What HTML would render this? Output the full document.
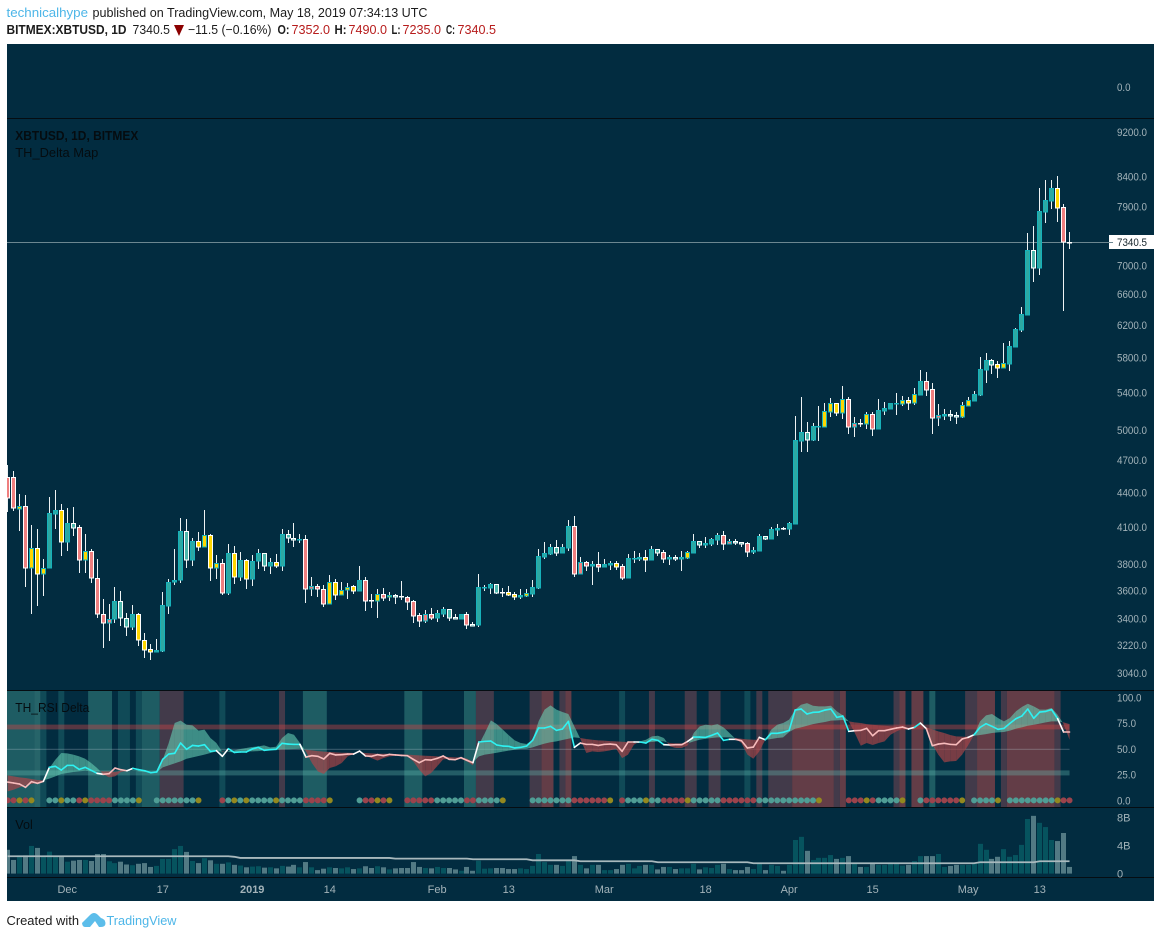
<!DOCTYPE html>
<html lang="en">
<head>
<meta charset="utf-8">
<title>XBTUSD 1D chart</title>
<style>
html,body{margin:0;padding:0;background:#fff;width:1161px;height:938px;overflow:hidden}
svg{display:block}
text{font-family:"Liberation Sans",sans-serif}
.ax{font-size:11px;fill:#a3b3b9}
.hd{font-size:13px;fill:#1c1c1c}
.ttl{font-size:13px;fill:#050c10}
</style>
</head>
<body>
<svg id="chart" xmlns="http://www.w3.org/2000/svg" width="1161" height="938" viewBox="0 0 1161 938">
  <defs>
    <clipPath id="main-clip"><rect x="7" y="119" width="1102" height="571"/></clipPath>
    <clipPath id="rsi-clip"><rect x="7" y="691" width="1102" height="116"/></clipPath>
    <clipPath id="vol-clip"><rect x="7" y="808" width="1102" height="69"/></clipPath>
  </defs>

  <text class="hd" x="6.5" y="17" textLength="81.5" lengthAdjust="spacingAndGlyphs" style="fill:#4db6e8">technicalhype</text>
  <text class="hd" x="92.5" y="17" textLength="335" lengthAdjust="spacingAndGlyphs">published on TradingView.com, May 18, 2019 07:34:13 UTC</text>
  <text class="hd" x="6.5" y="34" textLength="120" lengthAdjust="spacingAndGlyphs" font-weight="bold">BITMEX:XBTUSD, 1D</text>
  <text class="hd" x="132.5" y="34" textLength="37.5" lengthAdjust="spacingAndGlyphs">7340.5</text>
  <polygon points="174,25 184,25 179,36" fill="#8b0000"/>
  <text class="hd" x="188" y="34" textLength="83.5" lengthAdjust="spacingAndGlyphs">−11.5 (−0.16%)</text>
  <text class="hd" x="277.5" y="34" textLength="12" lengthAdjust="spacingAndGlyphs" font-weight="bold">O:</text>
  <text class="hd" x="291.5" y="34" textLength="38.5" lengthAdjust="spacingAndGlyphs" style="fill:#b71c1c">7352.0</text>
  <text class="hd" x="334.5" y="34" textLength="12" lengthAdjust="spacingAndGlyphs" font-weight="bold">H:</text>
  <text class="hd" x="348.5" y="34" textLength="38.5" lengthAdjust="spacingAndGlyphs" style="fill:#b71c1c">7490.0</text>
  <text class="hd" x="391.5" y="34" textLength="9" lengthAdjust="spacingAndGlyphs" font-weight="bold">L:</text>
  <text class="hd" x="402.5" y="34" textLength="38.5" lengthAdjust="spacingAndGlyphs" style="fill:#b71c1c">7235.0</text>
  <text class="hd" x="446" y="34" textLength="9" lengthAdjust="spacingAndGlyphs" font-weight="bold">C:</text>
  <text class="hd" x="457.5" y="34" textLength="38.5" lengthAdjust="spacingAndGlyphs" style="fill:#b71c1c">7340.5</text>

  <rect x="7" y="44" width="1147" height="857" fill="#022c40"/>

  <g id="rsi-bg" clip-path="url(#rsi-clip)"></g>
  <g id="rsi-guides" clip-path="url(#rsi-clip)"></g>
  <g id="rsi-cloud" clip-path="url(#rsi-clip)"></g>
  <g id="rsi-line" clip-path="url(#rsi-clip)"></g>
  <g id="rsi-dots" clip-path="url(#rsi-clip)"></g>
  <g id="vol-bars" clip-path="url(#vol-clip)"></g>
  <path id="vol-ma" clip-path="url(#vol-clip)" fill="none" stroke="#a9b9bd" stroke-width="1.8"/>

  <rect id="price-line" x="7" y="242" width="1102" height="1" fill="#6c8791"/>
  <g id="candles" clip-path="url(#main-clip)"></g>

  <rect x="7" y="118" width="1147" height="1" fill="#050d12"/>
  <rect x="7" y="690" width="1147" height="1" fill="#050d12"/>
  <rect x="7" y="807" width="1147" height="1" fill="#050d12"/>
  <rect x="7" y="877" width="1147" height="1" fill="#050d12"/>

  <text class="ax" x="1117" y="91" textLength="13.5" lengthAdjust="spacingAndGlyphs">0.0</text>
  <g id="price-axis"></g>
  <g id="rsi-axis"></g>
  <g id="vol-axis"></g>
  <g id="time-axis"></g>

  <rect id="price-tag" x="1109" y="235" width="45" height="14" fill="#ffffff"/>
  <rect x="1109" y="242" width="4" height="1" fill="#6c8791"/>
  <text id="price-tag-text" x="1117" y="246" textLength="30" lengthAdjust="spacingAndGlyphs" style="font-size:11px;fill:#15242b">7340.5</text>

  <text class="ttl" x="15.3" y="140" textLength="123" lengthAdjust="spacingAndGlyphs" font-weight="bold">XBTUSD, 1D, BITMEX</text>
  <text class="ttl" x="15.3" y="157" textLength="83" lengthAdjust="spacingAndGlyphs">TH_Delta Map</text>
  <text class="ttl" x="15.3" y="712" textLength="74" lengthAdjust="spacingAndGlyphs">TH_RSI Delta</text>
  <text class="ttl" x="15.3" y="829" textLength="17.5" lengthAdjust="spacingAndGlyphs">Vol</text>

  <text class="hd" x="6.5" y="925" textLength="72.5" lengthAdjust="spacingAndGlyphs">Created with</text>
  <path d="M82 923 L90 915 Q94 911 98 915 L101 918 Q105 919 105.5 923 Q105.5 927 101 927 L99 927 L95 921 L90 927 L85 927 Q82.5 927 82 923 Z" fill="#5cbdea"/>
  <text class="hd" x="106.5" y="925" textLength="70" lengthAdjust="spacingAndGlyphs" style="fill:#4db6e8">TradingView</text>
</svg>

<script>
const opens = [
4540,4540,4252,4280,3769,3926,3722,3769,4209,4243,
3975,4132,4098,3830,3902,3692,3430,3367,3395,3522,
3402,3339,3430,3252,3193,3173,3180,3486,3662,3677,
4065,3830,3983,3934,4032,3769,3807,3580,3887,3699,
3830,3684,3823,3887,3784,3815,3784,4040,4007,3991,
3999,3610,3632,3610,3500,3662,3566,3602,3632,3595,
3677,3529,3522,3573,3551,3566,3558,3551,3522,3423,
3381,3430,3402,3430,3465,3409,3395,3430,3360,3353,
3617,3617,3647,3588,3588,3573,3551,3558,3573,3617,
3855,3879,3934,3887,3926,4106,3722,3815,3784,3800,
3776,3792,3807,3784,3692,3839,3839,3855,3830,3918,
3895,3839,3855,3839,3847,3887,3983,3950,3959,3991,
4032,3959,3983,3975,3967,3895,3902,4024,3999,4073,
4090,4081,4123,4888,4980,4898,5031,5031,5188,5284,
5177,5328,5031,5072,5062,5167,5010,5198,5220,5273,
5273,5317,5284,5372,5528,5438,5125,5146,5167,5156,
5135,5252,5306,5372,5654,5771,5724,5677,5724,5926,
6137,6328,7230,6968,7815,7993,8209,7896,7352];
const highs = [
4653,4597,4385,4376,4115,4081,3839,4358,4421,4297,
4263,4271,4115,4040,3918,3839,3536,3500,3625,3595,
3437,3493,3437,3299,3226,3259,3588,3684,3918,4174,
4166,4007,4056,4243,4040,3871,3839,3959,3942,3895,
3839,3871,3918,3887,3847,3879,4081,4073,4132,4040,
4032,3699,3647,3639,3715,3684,3662,3654,3639,3784,
3699,3573,3610,3617,3588,3573,3669,3558,3529,3437,
3458,3472,3458,3479,3465,3430,3430,3444,3374,3722,
3639,3654,3647,3617,3632,3588,3610,3610,3677,3918,
3975,3959,3991,3959,4157,4192,3855,3823,3823,3895,
3839,3823,3823,3800,3879,3902,3887,3910,3942,3918,
3910,3871,3871,3902,3902,4040,3983,4015,4007,4048,
4065,3999,3999,3975,3975,3934,4040,4024,4098,4123,
4098,4140,5146,5350,5083,5072,5252,5284,5339,5284,
5471,5350,5135,5114,5188,5188,5328,5295,5284,5394,
5361,5350,5449,5654,5631,5505,5273,5220,5209,5188,
5295,5350,5416,5807,5854,5783,5759,5975,6000,6162,
6434,7480,7585,8209,8344,8344,8413,7945,7490];
const lows = [
4226,4235,4065,3625,3430,3486,3558,3769,4081,3863,
3902,4024,3730,3730,3654,3402,3199,3246,3367,3346,
3279,3319,3213,3134,3121,3173,3173,3430,3639,3654,
3769,3784,3902,3934,3669,3684,3566,3566,3647,3669,
3610,3632,3761,3745,3722,3769,3745,3967,3934,3967,
3508,3558,3551,3479,3500,3529,3566,3536,3573,3595,
3451,3472,3402,3522,3522,3500,3529,3458,3367,3339,
3367,3388,3374,3409,3381,3395,3395,3326,3346,3339,
3595,3573,3573,3551,3558,3529,3536,3551,3551,3610,
3839,3871,3863,3887,3902,3699,3722,3745,3639,3738,
3776,3753,3753,3677,3692,3807,3823,3738,3830,3863,
3807,3792,3823,3745,3839,3887,3926,3926,3942,3950,
3910,3959,3950,3934,3855,3879,3902,3991,3999,4024,
4073,4032,4123,4780,4780,4888,4888,5031,5135,5146,
5114,4959,4929,5031,5010,4939,5010,5156,5220,5156,
5252,5209,5263,5372,5361,4959,5041,5103,5093,5062,
5125,5252,5306,5361,5505,5608,5562,5677,5642,5926,
6112,6328,6771,6870,7632,7864,7648,6381,7235];
const closes = [
4349,4263,4280,3769,3926,3722,3769,4217,4243,3975,
4132,4090,3830,3902,3692,3430,3367,3395,3522,3402,
3339,3430,3252,3186,3173,3186,3493,3662,3677,4065,
3830,3983,3934,4032,3769,3807,3580,3887,3699,3830,
3684,3823,3887,3784,3815,3784,4040,4007,3991,3999,
3610,3632,3610,3500,3662,3566,3602,3625,3595,3677,
3522,3522,3573,3544,3566,3551,3551,3515,3416,3381,
3430,3402,3437,3465,3402,3395,3430,3353,3346,3625,
3625,3647,3580,3580,3566,3551,3566,3580,3625,3863,
3887,3934,3887,3934,4106,3722,3815,3784,3800,3776,
3800,3807,3776,3692,3847,3847,3855,3830,3918,3887,
3839,3855,3839,3855,3895,3983,3950,3967,3999,4032,
3959,3983,3967,3959,3895,3910,4024,3999,4081,4090,
4081,4132,4898,4980,4898,5041,5041,5198,5284,5177,
5328,5031,5072,5062,5167,5010,5209,5230,5284,5284,
5317,5284,5383,5528,5427,5125,5156,5167,5146,5135,
5263,5317,5383,5665,5771,5712,5677,5736,5938,6149,
6341,7230,6968,7831,8010,8209,7880,7352,7340.5];
const candleFills = ("rryryyytty"+"tmryrrrrtm"+"mtyyyttttt"+"mtyyyyrtyt"+"yttmtytmmt"+"rrrryyyyyt"+"rmyrymmrrr"+"rrttmmtrmt"+"ttmmyytytt"+"ttmttrrrtr"+"ttyrtttytm"+"rtmtytmttt"+"rrmmrttmtt"+"mtttmttyyy"+"yrrmyrtttt"+"yyytrrrtmm"+"yytttmyytt"+"ttmtttyrm").split("");
const lastPrice = 7340.5;
const priceTicks = [9200,8400,7900,7000,6600,6200,5800,5400,5000,4700,4400,4100,3800,3600,3400,3220,3040];

const rsi = [
17.7,16.8,15.8,12.6,18.1,16.5,18.4,32,33,29.4,
33.9,33.9,30,32,29.1,26.2,25.2,25.8,31.3,29.7,
28.7,31,29.7,28.7,26.8,27.5,39.8,44.9,45.6,55.6,
49.5,53.3,52.7,54,47.5,48.2,42.7,50.1,46.5,46.9,
46.9,49.8,51.4,48.5,49.1,49.5,55.3,54.6,54.3,54.3,
42,43.3,42.7,40.1,45.6,44,44.3,44.9,44.9,47.8,
43,42.7,44.3,43.3,44.6,44,43.6,43.3,39.8,36.5,
39.4,39.1,40.7,43,39.8,39.4,41.4,38.8,36.5,56.6,
57.2,57.5,53.7,52.7,52.4,50.8,51.4,52.7,58.2,70.2,
70.2,71.8,67.9,69.2,76.6,51.4,55.6,54.3,54.3,53.3,
54.3,54.6,54,47.5,56.6,56.6,56.6,55.6,59.2,58.2,
54,53.7,54,54,57.2,61.4,61.4,61.1,63,65.3,
58.2,59.2,59.2,57.9,50.8,51.7,61.1,58.8,65,65,
66,67.9,87.6,88.6,83.8,85.4,85.7,87.6,88.6,80.5,
81.8,66.9,67.6,67.9,69.8,62.7,67.6,67.6,68.9,70.2,
71.1,69.2,70.8,75,69.5,53,54.6,55.3,54.3,54,
59.5,61.1,63.7,70.8,74.4,71.8,68.9,69.8,74.7,79.2,
81.8,88.6,79.6,85.7,86.3,88,79.2,66.3,66.3];
const fastAvg = [
8.7,10.3,12.6,14.5,15.8,17.1,18.7,31.3,39.4,45.9,
45.6,44.3,42.7,40.4,36.2,31.3,25.5,22.3,23.2,27.5,
28.7,29.4,28.7,28.1,27.5,27.5,39.4,55.6,75,77.3,
73.4,72.8,67.6,68.6,60.5,55.6,46.9,47.5,48.5,49.8,
50.8,51.7,52.4,53.3,51.4,52,60.5,65.3,63.7,55.6,
47.5,36.2,28.1,25.5,31.3,33,36.2,42.7,44.9,46.5,
43.3,41,38.5,41,42.7,43.3,43.6,42.7,37.8,29.7,
23.2,26.5,33,39.7,40.4,40.4,40.1,37.8,33.9,54,
65.3,77.6,74,68.6,63.1,58.2,55.6,54.6,58.8,76.6,
88,92.2,88,85.7,83.8,71.8,59.8,45.9,47.5,46.9,
47.5,48.5,50.1,41,44.3,54,57.2,58.8,62.1,62.7,
60.5,52.4,50.8,50.8,53.3,65.3,71.8,73.4,72.8,74,
70.8,65.3,59.8,55.6,44.3,40.4,47.5,58.8,68.6,73.4,
75,78.3,88,92.8,94.4,91.8,91.2,91.2,91.8,86.3,
82.5,76.6,65.3,53,55.6,53.7,55.6,57.2,63.7,66.9,
69.5,68.6,71.8,75,69.5,54,44.3,36.8,37.8,38.1,
44.3,53.3,63.7,76.6,82.5,83.8,79.9,76.6,79.9,86.3,
90.6,93.8,91.2,88,88,89.6,83.1,74,58.8];
const slowAvg = [
24.2,23.2,22.3,21.6,20.7,19.7,19.4,21,23.2,25.5,
26.5,27.5,28.1,28.7,28.1,28.1,28.1,28.1,27.5,28.7,
29.1,29.1,28.1,27.5,27.1,27.1,32,33.9,35.9,37.8,
40.4,41.7,43,44.3,45.9,47.5,47.5,46.9,46.5,47.2,
47.5,47.5,47.8,48.5,48.8,49.1,49.5,49.5,49.8,50.1,
49.1,48.5,47.8,47.2,46.9,46.5,46.2,46.2,45.9,46.5,
45.9,45.6,45.2,45.2,45.2,44.9,44.6,44.3,44,43.6,
43.3,43,42.7,42.3,42,41.7,41.7,40.4,37.2,42.7,
44.3,45.2,46.2,47.2,48.2,49.1,49.8,50.1,51.4,53.3,
55,56.3,57.2,58.5,59.8,61.1,60.5,59.5,58.8,58.2,
57.9,57.5,57.2,56.9,56.6,55.6,55.6,56.3,56.6,57.2,
57.2,55.6,55.3,55.3,55.3,57.2,58.8,59.8,60.5,61.1,
61.1,61.1,60.5,59.8,59.2,58.8,58.8,58.8,59.5,60.5,
61.1,66.3,69.5,70.8,72.4,74,75,76,77.3,77.6,
77.9,76.6,75.7,75,74,73.4,72.8,72.4,71.8,71.5,
70.8,70.5,71.8,75,70.8,68.9,66.9,65.3,63.4,62.1,
61.8,61.4,62.7,63.4,64.3,65.3,66,66.3,67.6,69.5,
70.8,72.4,73.4,74.4,75.7,76.6,76.6,75.7,74];
const signalDots = ("rryry__tty"+"ttryrrrrtt"+"tty__ttttt"+"tty___rtyt"+"yttttytttt"+"rrrry____t"+"rryry__rrr"+"rrtttttrrt"+"ttty____tt"+"tttttrrrrr"+"ry_rtttytt"+"rrrryttttt"+"rrrrrrtttt"+"tttttty___"+"_rrryrtttt"+"y__trrrrrr"+"y_ttttY_tt".replace("Y","y")+"ttttttyrr").split("");
const bgRuns = [
[0,4,"b"],[5,5,"c"],[6,6,"a"],[9,9,"a"],[14,17,"b"],[19,20,"a"],[22,22,"a"],[23,25,"b"],[26,29,"p"],[36,36,"a"],
[46,46,"p"],[50,53,"b"],[67,69,"b"],[77,78,"b"],[79,81,"p"],[88,89,"p"],[90,91,"r"],[93,93,"p"],[94,94,"r"],
[103,103,"a"],[108,108,"p"],[114,115,"p"],[118,119,"p"],[124,124,"a"],[126,126,"p"],[128,131,"p"],[132,138,"r"],
[139,139,"p"],[140,140,"r"],[149,149,"p"],[150,150,"r"],[152,153,"r"],[155,155,"b"],[161,162,"p"],[163,165,"r"],
[167,167,"p"],[168,175,"r"],[176,176,"p"]];
const rsiTicks = [100,75,50,25,0];

const volume = [
3.4,1.95,2.6,2.6,3.95,3.67,2.5,3.14,2.5,2.5,
1.7,1.85,1.95,1.95,1.8,2.8,2.8,1.76,1.5,1.7,
1.3,1.2,1.4,1.5,.95,1.1,2.1,2.1,3.5,3.95,
3.1,1.8,1.5,2.2,1.9,1.4,1.4,1.6,1.25,1.15,
.9,1,1.05,.85,.9,.75,1.1,1,1.25,.9,
1.65,.9,.5,.7,.9,.8,.75,.9,.65,.75,
1.05,.8,1.05,.9,.6,.75,.8,.8,1.65,.95,
.8,.75,.95,.8,.8,.6,.4,.95,.4,1.85,
.7,.75,.8,.8,.65,.65,.75,.65,1.1,2.8,
1.65,1.25,1.25,1.1,1.8,2.5,1.25,.75,1.25,1.25,
.5,.5,.65,1.25,1.4,.75,1.1,1.25,1.25,.6,
.95,.95,.65,.75,.75,1.4,.6,.9,.8,1.25,
1.4,.65,.5,.5,.95,.65,1.4,.5,1.25,1.1,
.4,1.25,4.8,5.25,3.25,1.95,2.25,2.25,2.65,2.1,
2.25,2.5,1.4,.95,.95,1.5,1.25,1.25,1.4,1.4,
1.15,1.25,1.8,2.5,2.5,2.5,2.8,.95,1.1,1.25,
1.25,1.25,1.4,4.25,3.4,2.1,2.4,3.5,2.4,2.65,
4.1,7.8,8.25,7.25,6.65,4.8,4.65,5.8,.95];
const volumeAvg = [
2.48,2.48,2.48,2.48,2.48,2.48,2.48,2.48,2.48,2.48,
2.48,2.48,2.48,2.48,2.48,2.48,2.48,2.48,2.48,2.48,
2.48,2.48,2.48,2.48,2.48,2.48,2.48,2.48,2.48,2.48,
2.48,2.48,2.48,2.48,2.48,2.48,2.48,2.48,2.4,2.24,
2.24,2.24,2.24,2.24,2.24,2.24,2.24,2.24,2.24,2.24,
2.24,2.24,2.24,2.24,2.24,2.24,2.24,2.24,2.24,2.24,
2.24,2.24,2.24,2.24,2.24,2.14,2.14,2.14,2.14,2.14,
2.14,2.14,2.14,2.14,2.14,2.14,2.14,2.14,2.05,2.05,
2.05,2.05,2.05,2.05,2.05,2.05,2.05,2.05,1.9,1.9,
1.9,1.9,1.9,1.9,1.9,1.9,1.76,1.76,1.76,1.76,
1.76,1.76,1.76,1.76,1.76,1.76,1.76,1.76,1.76,1.62,
1.62,1.62,1.62,1.62,1.62,1.62,1.62,1.62,1.62,1.62,
1.62,1.62,1.62,1.62,1.62,1.48,1.48,1.48,1.48,1.48,
1.48,1.48,1.48,1.48,1.48,1.48,1.48,1.48,1.48,1.48,
1.48,1.48,1.48,1.48,1.48,1.48,1.48,1.48,1.48,1.48,
1.48,1.48,1.48,1.48,1.48,1.48,1.48,1.48,1.48,1.48,
1.48,1.48,1.48,1.62,1.62,1.62,1.62,1.62,1.62,1.62,
1.62,1.62,1.62,1.76,1.76,1.76,1.76,1.76,1.76];
const volumeTicks = [8,4,0];
const volumeTickLabels = ["8B","4B","0"];

const timeTickBars = [10,26,41,54,72,84,100,117,131,145,161,173];
const timeTickLabels = ["Dec","17","2019","14","Feb","13","Mar","18","Apr","15","May","13"];

const SVGNS = "http://www.w3.org/2000/svg";
const barCount = closes.length;
function xAt(i){ return 7.6 + 5.966 * i; }
function priceY(p){ return 132 + 488.5 * Math.log(9200 / p); }
function rsiY(v){ return 800.3 - 1.03 * v; }
function volY(v){ return 873.6 - 7 * v; }
function axisWidth(s){
  let w = 0;
  for (const c of s) w += c === "." ? 2.5 : 5.5;
  return w;
}
function make(tag, parent, attrs){
  const el = document.createElementNS(SVGNS, tag);
  for (const k in attrs) el.setAttribute(k, attrs[k]);
  parent.appendChild(el);
  return el;
}

/* candles */
const candleColors = {r:"#ef7f7f", t:"#2da8a2", y:"#ffd600", m:"#4db6ac"};
const candleGroup = document.getElementById("candles");
for (let i = 0; i < barCount; i++){
  const cx = Math.floor(xAt(i));
  const hiY = Math.round(priceY(highs[i])), loY = Math.round(priceY(lows[i]));
  const top = Math.round(priceY(Math.max(opens[i], closes[i])));
  const bot = Math.round(priceY(Math.min(opens[i], closes[i])));
  const wick = make("rect", candleGroup, {x:cx, y:hiY, width:1, height:Math.max(1, loY - hiY), fill:"#eef3f4"});
  
  
  const body = make("rect", candleGroup, {x:cx - 1.5, y:top + 0.5, width:4, height:Math.max(0.5, bot - top - 0.5),
    fill:candleColors[candleFills[i]], stroke:closes[i] < opens[i] ? "#ffffff" : "#16b1ba", "stroke-width":1});
  
  
}
document.getElementById("price-line").setAttribute("y", Math.round(priceY(lastPrice)));

/* price axis */
const priceAxis = document.getElementById("price-axis");
for (const t of priceTicks){
  const text = t.toFixed(1);
  const label = make("text", priceAxis, {x:1117, y:priceY(t) + 4, class:"ax", textLength:axisWidth(text), lengthAdjust:"spacingAndGlyphs"});
  label.textContent = text;
  
  
}

/* RSI pane */
const bgColors = {a:"#104a57", b:"#1e5c63", c:"#266469", p:"#423a4a", r:"#633d47"};
const rsiBg = document.getElementById("rsi-bg");
for (const run of bgRuns){
  const x0 = xAt(run[0]) - 3, x1 = xAt(run[1]) + 3;
  const col = make("rect", rsiBg, {x:x0, y:691, width:x1 - x0, height:116, fill:bgColors[run[2]]});
  
  
}
const guideEnd = xAt(barCount - 1);
const rsiGuides = document.getElementById("rsi-guides");
const guide50 = make("rect", rsiGuides, {x:7, y:rsiY(50), width:guideEnd - 7, height:1, fill:"rgba(190,205,210,.32)"});


const bandHigh = make("rect", rsiGuides, {x:7, y:rsiY(73.5), width:guideEnd - 7, height:4.8, fill:"rgba(205,70,70,.42)"});


const bandLow = make("rect", rsiGuides, {x:7, y:rsiY(29), width:guideEnd - 7, height:5, fill:"rgba(105,195,185,.32)"});



const rsiCloud = document.getElementById("rsi-cloud");
function cloudPiece(x0, a0, b0, x1, a1, b1, bullish){
  const pts = [[x0, rsiY(a0)], [x1, rsiY(a1)], [x1, rsiY(b1)], [x0, rsiY(b0)]];
  const piece = make("polygon", rsiCloud, {points:pts.map(p => p[0].toFixed(2) + "," + p[1].toFixed(2)).join(" "),
    fill:bullish ? "rgba(105,212,185,.58)" : "rgba(176,70,72,.68)"});
  
  
}
for (let i = 0; i < barCount - 1; i++){
  const d0 = fastAvg[i] - slowAvg[i], d1 = fastAvg[i + 1] - slowAvg[i + 1];
  const x0 = xAt(i), x1 = xAt(i + 1);
  if ((d0 >= 0) === (d1 >= 0)){
    cloudPiece(x0, fastAvg[i], slowAvg[i], x1, fastAvg[i + 1], slowAvg[i + 1], d0 >= 0);
  } else {
    const f = d0 / (d0 - d1);
    const xm = x0 + (x1 - x0) * f;
    const vm = fastAvg[i] + (fastAvg[i + 1] - fastAvg[i]) * f;
    cloudPiece(x0, fastAvg[i], slowAvg[i], xm, vm, vm, d0 >= 0);
    cloudPiece(xm, vm, vm, x1, fastAvg[i + 1], slowAvg[i + 1], d1 >= 0);
  }
}
const rsiLineGroup = document.getElementById("rsi-line");
for (let i = 0; i < barCount - 1; i++){
  const s0 = fastAvg[i] >= slowAvg[i], s1 = fastAvg[i + 1] >= slowAvg[i + 1];
  const segment = make("line", rsiLineGroup, {x1:xAt(i), y1:rsiY(rsi[i]), x2:xAt(i + 1), y2:rsiY(rsi[i + 1]),
    stroke:s0 !== s1 ? "#ffffff" : (s1 ? "#2ef2f2" : "#f8bcbc"), "stroke-width":1.6, "stroke-linecap":"round"});
  
  
}
const dotColors = {r:"#9b434c", t:"#4f9d95", y:"#93881f"};
const rsiDots = document.getElementById("rsi-dots");
for (let i = 0; i < barCount; i++){
  if (!dotColors[signalDots[i]]) continue;
  const dot = make("circle", rsiDots, {cx:xAt(i), cy:800.4, r:3, fill:dotColors[signalDots[i]]});
  
  
}
const rsiAxis = document.getElementById("rsi-axis");
for (const t of rsiTicks){
  const text = t.toFixed(1);
  const label = make("text", rsiAxis, {x:1117, y:rsiY(t) + 4, class:"ax", textLength:axisWidth(text), lengthAdjust:"spacingAndGlyphs"});
  label.textContent = text;
  
  
}

/* volume pane */
const volBars = document.getElementById("vol-bars");
for (let i = 0; i < barCount; i++){
  const cx = Math.floor(xAt(i));
  const top = volY(volume[i]);
  const bar = make("rect", volBars, {x:cx - 2, y:top, width:5, height:873.6 - top,
    fill:closes[i] < opens[i] ? "#527a84" : "#06535e"});
  
  
}
document.getElementById("vol-ma").setAttribute("d",
  volumeAvg.map((v, i) => (i ? "L" : "M") + xAt(i).toFixed(2) + " " + volY(v).toFixed(2)).join(" "));
const volAxis = document.getElementById("vol-axis");
volumeTicks.forEach((t, k) => {
  const label = make("text", volAxis, {x:1117, y:volY(t) + 4, class:"ax"});
  label.textContent = volumeTickLabels[k];
  
  
});

/* time axis */
const timeAxis = document.getElementById("time-axis");
timeTickBars.forEach((b, k) => {
  const label = make("text", timeAxis, {x:xAt(b), y:893, class:"ax", "text-anchor":"middle"});
  label.textContent = timeTickLabels[k];
  if (timeTickLabels[k] === "2019") label.setAttribute("font-weight", "bold");
  
  
});
</script>
</body>
</html>
